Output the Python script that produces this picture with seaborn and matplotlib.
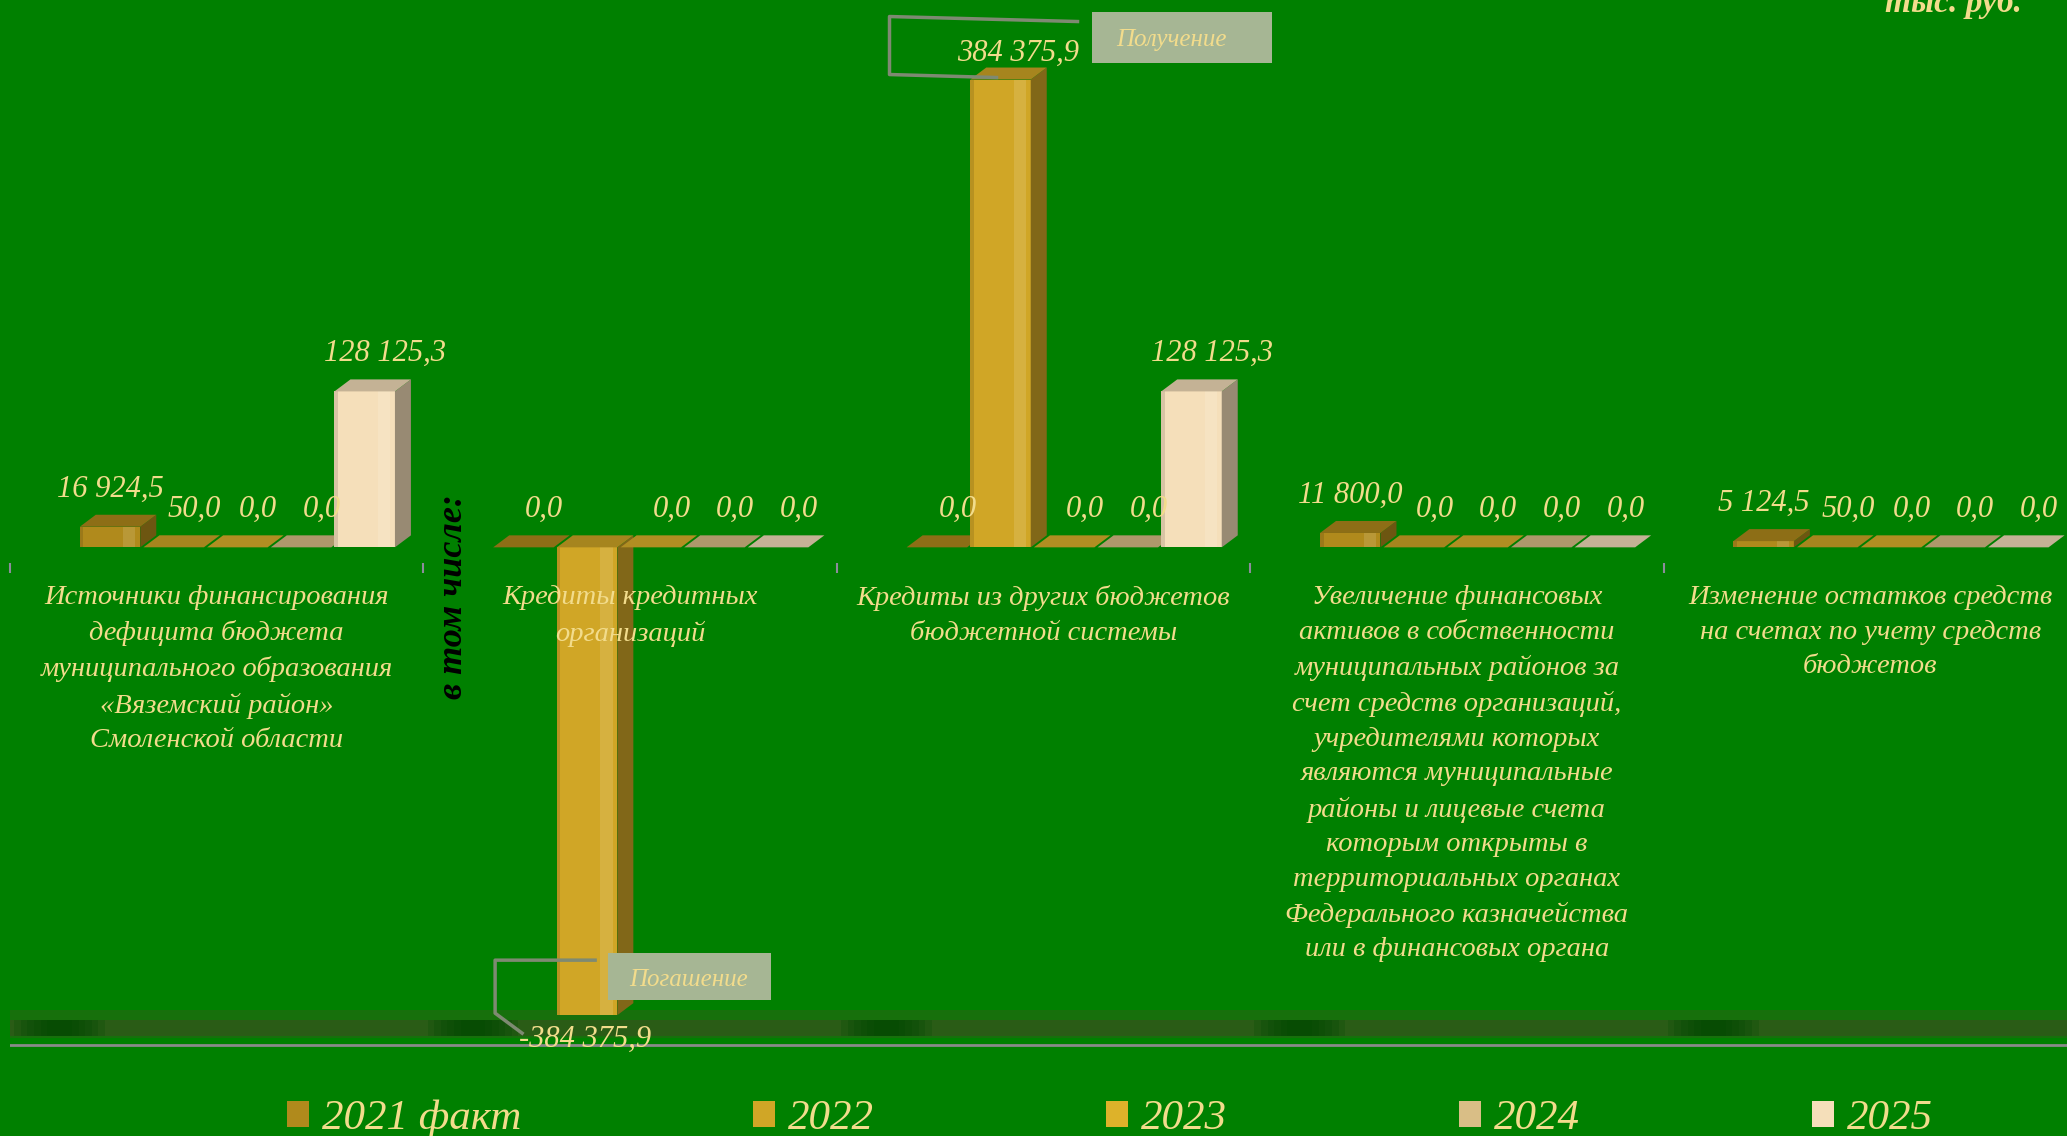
import matplotlib
matplotlib.use('Agg')
import matplotlib.pyplot as plt
import matplotlib.colors as mcolors
from matplotlib.patches import Polygon, Rectangle
import seaborn as sns
import pandas as pd
import numpy as np

# categories (with the line breaks used on the slide)
categories = [
    "Источники финансирования\nдефицита бюджета\nмуниципального образования\n«Вяземский район»\nСмоленской области",
    "Кредиты кредитных\nорганизаций",
    "Кредиты из других бюджетов\nбюджетной системы",
    "Увеличение финансовых\nактивов в собственности\nмуниципальных районов за\nсчет средств организаций,\nучредителями которых\nявляются муниципальные\nрайоны и лицевые счета\nкоторым открыты в\nтерриториальных органах\nФедерального казначейства\nили в финансовых органа",
    "Изменение остатков средств\nна счетах по учету средств\nбюджетов",
]
years = ["2021 факт", "2022", "2023", "2024", "2025"]

vals_2021 = [16924.5, 0.0, 0.0, 11800.0, 5124.5]
vals_2022 = [50.0, -384375.9, 384375.9, 0.0, 50.0]
vals_2023 = [0.0, 0.0, 0.0, 0.0, 0.0]
vals_2024 = [0.0, 0.0, 0.0, 0.0, 0.0]
vals_2025 = [128125.3, 0.0, 128125.3, 0.0, 0.0]

colors = ["#B08A1C", "#D0A626", "#DDB22A", "#D9BE86", "#F5DFBA"]

rows = []
for yr, vals in zip(years, [vals_2021, vals_2022, vals_2023, vals_2024, vals_2025]):
    for c, v in zip(categories, vals):
        rows.append({"cat": c, "year": yr, "value": v})
df = pd.DataFrame(rows)

BG = "#008000"
TXT = "#F2DC8C"

plt.rcParams["font.family"] = ["Liberation Serif", "DejaVu Serif"]
plt.rcParams["font.style"] = "italic"


def fmt(v):
    s = f"{abs(v):,.1f}".replace(",", " ").replace(".", ",")
    return ("-" if v < 0 else "") + s


def shade(c, k):
    r, g, b = mcolors.to_rgb(c)
    return (r * k, g * k, b * k)


def lighten(c, k):
    r, g, b = mcolors.to_rgb(c)
    return (r + (1 - r) * k, g + (1 - g) * k, b + (1 - b) * k)


fig = plt.figure(figsize=(20.67, 11.36), dpi=100, facecolor=BG)
ax = fig.add_axes([10 / 2067, 1 - 1050 / 1136, 1.0, 1026 / 1136])
ax.set_facecolor("none")

sns.barplot(data=df, x="cat", y="value", hue="year", order=categories,
            hue_order=years, palette=colors, saturation=1, width=0.77,
            gap=0.05, errorbar=None, ax=ax)

ax.set_xlim(-0.5, 4.5)
ax.set_ylim(-413000, 430000)

# pixel -> data conversions (axes is 2067 px wide, 1026 px tall)
PXX = 2067 / 5.0
PXY = 1026 / 843000.0
dx = 16 / PXX
dy = 12 / PXY
shift = 0.05

all_vals = [vals_2021, vals_2022, vals_2023, vals_2024, vals_2025]

# 3d-ish boxes
for i, cont in enumerate(ax.containers):
    for j, p in enumerate(cont.patches):
        p.set_x(p.get_x() + shift)
        x0, w, h = p.get_x(), p.get_width(), p.get_height()
        lo, hi = min(0, h), max(0, h)
        z = 1 + j * 0.1 + i * 0.01
        p.set_zorder(z)
        p.set_edgecolor("none")
        c = colors[i]
        if hi - lo > 0:
            # soft highlight stripe on the front face
            ax.add_patch(Rectangle((x0 + w * 0.72, lo), w * 0.2, hi - lo,
                                   facecolor=lighten(c, 0.12), edgecolor="none", zorder=z))
            ax.add_patch(Rectangle((x0, lo), w * 0.06, hi - lo,
                                   facecolor=shade(c, 0.88), edgecolor="none", zorder=z))
        side = Polygon([(x0 + w, lo), (x0 + w + dx, lo + dy), (x0 + w + dx, hi + dy), (x0 + w, hi)],
                       closed=True, facecolor=shade(c, 0.62), edgecolor="none", zorder=z)
        top = Polygon([(x0, hi), (x0 + dx, hi + dy), (x0 + w + dx, hi + dy), (x0 + w, hi)],
                      closed=True, facecolor=shade(c, 0.8), edgecolor="none", zorder=z)
        ax.add_patch(side)
        ax.add_patch(top)

        v = all_vals[i][j]
        cx = x0 + w / 2
        if i == 1 and j == 2:
            # "Получение" callout
            def P(a, b):
                return (cx + a / PXX, hi - b / PXY)
            ax.text(*P(18, -26), fmt(v), ha="center", va="center", color=TXT, fontsize=22, zorder=5)
            pts = [P(77, -58), P(-111, -63), P(-111, -5), P(-4, -2)]
            ax.plot([q[0] for q in pts], [q[1] for q in pts], color="#7E8A72", lw=2.5,
                    zorder=5, clip_on=False)
            bx0, by0 = P(91, -17)
            bx1, by1 = P(271, -68)
            ax.add_patch(Rectangle((bx0, by0), bx1 - bx0, by1 - by0, facecolor="#A6B694",
                                   edgecolor="none", zorder=5, clip_on=False))
            ax.text(*P(171, -40), "Получение", ha="center", va="center", color=TXT, fontsize=18, zorder=6)
        elif i == 1 and j == 1:
            # "Погашение" callout
            def P(a, b):
                return (cx + a / PXX, lo - b / PXY)
            ax.text(*P(-2, 24), fmt(v), ha="center", va="center", color=TXT, fontsize=22, zorder=5)
            pts = [P(-65, 18), P(-92, -2), P(-92, -55), P(8, -55)]
            ax.plot([q[0] for q in pts], [q[1] for q in pts], color="#7E8A72", lw=2.5, zorder=5)
            bx0, by0 = P(21, -15)
            bx1, by1 = P(184, -62)
            ax.add_patch(Rectangle((bx0, by0), bx1 - bx0, by1 - by0, facecolor="#A6B694",
                                   edgecolor="none", zorder=5))
            ax.text(*P(101, -35), "Погашение", ha="center", va="center", color=TXT, fontsize=18, zorder=6)
        else:
            off = 0.0 if (i == 0 and v != 0) else 0.05
            ax.annotate(fmt(v), (cx + off, hi + dy), xytext=(0, 8), textcoords="offset points",
                        ha="center", va="bottom", color=TXT, fontsize=22, zorder=5)

# floor band with soft dark spots, and base line
ax.axhspan(-403000, -380000, color="#17700C", zorder=0.5, lw=0)
ax.axhspan(-401500, -388400, color="#2A5C16", zorder=0.6, lw=0)
for b in np.arange(-0.5, 4.5, 1):
    for k in range(6):
        half = 0.11 - k * 0.016
        ax.fill_between([b + 0.12 - half, b + 0.12 + half], -401500, -388400,
                        color="#004A00", alpha=0.22, lw=0, zorder=0.65)
ax.axhline(-409000, color="#8A8A8A", lw=2, zorder=0.7)

# axes styling
for s in ["top", "right", "left"]:
    ax.spines[s].set_visible(False)
ax.spines["bottom"].set_position(("data", -13000))
ax.spines["bottom"].set_color("none")
ax.set_yticks([])
ax.set_xlabel("")
ax.set_ylabel("")
ax.set_xticks(np.arange(-0.5, 5, 1), minor=True)
ax.tick_params(axis="x", which="major", length=0, pad=16, labelsize=20.5, labelcolor=TXT)
ax.tick_params(axis="x", which="minor", length=7, width=1.5, color="#8C8C9C", direction="out")
for t in ax.get_xticklabels():
    t.set_linespacing(1.5)
    t.set_verticalalignment("top")

# legend
handles, labels = ax.get_legend_handles_labels()
ax.get_legend().remove()
fig.legend(handles, labels, loc="center", bbox_to_anchor=(0.537, 0.015), ncol=5,
           frameon=False, fontsize=31, labelcolor=TXT, handlelength=0.5,
           handleheight=0.55, handletextpad=0.3, columnspacing=5.4)

fig.text(453 / 2067, 1 - 597 / 1136, "в том числе:", rotation=90, ha="center", va="center",
         color="black", fontsize=26, fontweight="bold")
fig.text(0.978, 0.9894, "тыс. руб.", ha="right", va="baseline", color=TXT,
         fontsize=24, fontweight="bold")

fig.savefig("out.png", dpi=100, facecolor=BG)
